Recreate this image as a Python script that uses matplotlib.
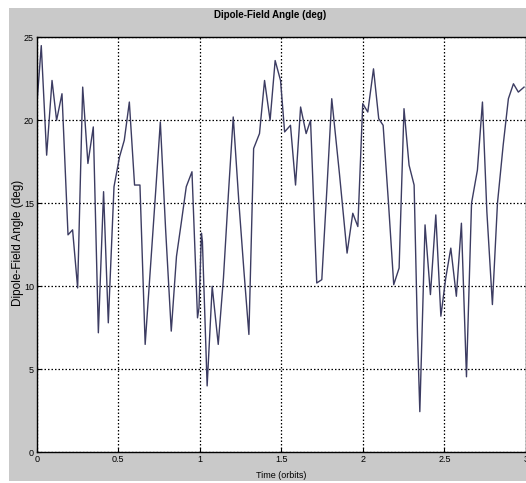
import numpy as np
import matplotlib
matplotlib.use("Agg")
from matplotlib import pyplot as plt
from matplotlib.patches import Rectangle

# Dipole-field angle samples over three orbits
time_orbits = [
    0.000, 0.028, 0.061, 0.094, 0.122, 0.155, 0.192, 0.220, 0.251, 0.282,
    0.314, 0.347, 0.378, 0.410, 0.439, 0.474, 0.508, 0.537, 0.568, 0.600,
    0.633, 0.665, 0.700, 0.730, 0.758, 0.790, 0.825, 0.857, 0.886, 0.917,
    0.952, 0.986, 0.995, 1.010, 1.016, 1.045, 1.076, 1.113, 1.145, 1.175,
    1.205, 1.240, 1.270, 1.301, 1.330, 1.366, 1.397, 1.431, 1.462, 1.495,
    1.520, 1.556, 1.587, 1.618, 1.652, 1.679, 1.717, 1.748, 1.780, 1.809,
    1.856, 1.903, 1.938, 1.969, 1.999, 2.030, 2.065, 2.097, 2.124, 2.157,
    2.189, 2.222, 2.252, 2.283, 2.314, 2.335, 2.349, 2.365, 2.381, 2.414,
    2.447, 2.478, 2.508, 2.539, 2.573, 2.604, 2.635, 2.666, 2.702, 2.733,
    2.760, 2.794, 2.825, 2.860, 2.892, 2.923, 2.953, 2.988,
]
angle_deg = [
    20.8, 24.5, 17.9, 22.4, 20.0, 21.6, 13.1, 13.4, 9.9, 22.0,
    17.4, 19.6, 7.2, 15.7, 7.8, 16.0, 17.8, 18.8, 21.1, 16.1,
    16.1, 6.5, 11.5, 15.8, 19.9, 13.5, 7.3, 11.8, 13.8, 16.0,
    16.9, 8.1, 8.7, 13.2, 12.7, 4.0, 10.0, 6.5, 10.5, 15.5,
    20.2, 15.0, 11.0, 7.1, 18.3, 19.2, 22.4, 20.0, 23.6, 22.4,
    19.3, 19.7, 16.1, 20.8, 19.2, 20.0, 10.2, 10.4, 16.0, 21.3,
    16.8, 12.0, 14.4, 13.6, 21.0, 20.5, 23.1, 20.1, 19.7, 15.0,
    10.1, 11.1, 20.7, 17.3, 16.1, 7.0, 2.45, 8.0, 13.7, 9.5,
    14.3, 8.2, 10.5, 12.3, 9.4, 13.8, 4.55, 15.0, 17.0, 21.1,
    14.5, 8.9, 15.0, 18.5, 21.3, 22.2, 21.7, 22.0,
]
x_ticks = [0, 0.5, 1, 1.5, 2, 2.5, 3]
x_tick_labels = ["0", "0.5", "1", "1.5", "2", "2.5", "3"]
y_ticks = [0, 5, 10, 15, 20, 25]

plt.rcParams['font.family'] = ['Liberation Sans', 'DejaVu Sans']

W, H = 526, 483
fig = plt.figure(figsize=(W / 100, H / 100), dpi=100)
fig.patch.set_facecolor('white')

# grey window panel behind the axes
fig.patches.append(Rectangle((9 / W, 1 - 481 / H), 1 - 9 / W, (481 - 8) / H,
                             transform=fig.transFigure, facecolor='#c9c9c9',
                             edgecolor='none', zorder=-10))

ax = fig.add_axes([36.7 / W, 1 - 452.3 / H, (W - 36.7) / W,
                   (452.3 - 37.3) / H])
ax.set_zorder(1)
ax.set_facecolor('white')
ax.plot(time_orbits, angle_deg, '-', color='#3c3c62', lw=1.0)

ax.set_xlim(0, 3)
ax.set_ylim(0, 25)
ax.set_xticks(x_ticks)
ax.set_xticklabels(x_tick_labels)
ax.set_yticks(y_ticks)
ax.grid(True, color='black', linestyle=(0, (1.2, 1.6)), linewidth=0.9)
ax.tick_params(direction='in', length=3, labelsize=6.5, pad=2,
               colors='black')
for sp in ax.spines.values():
    sp.set_linewidth(1.0)
    sp.set_color('black')

fig.text(270 / W, 1 - 15 / H, "Dipole-Field Angle (deg)", ha='center',
         va='center', fontsize=7, fontweight='bold')
fig.text(281 / W, 1 - 476 / H, "Time (orbits)", ha='center', va='center',
         fontsize=6.5)
fig.text(18 / W, 1 - 243 / H, "Dipole-Field Angle (deg)", ha='center',
         va='center', rotation=90, fontsize=8.5)

fig.savefig("out.png", dpi=100, facecolor='white')
